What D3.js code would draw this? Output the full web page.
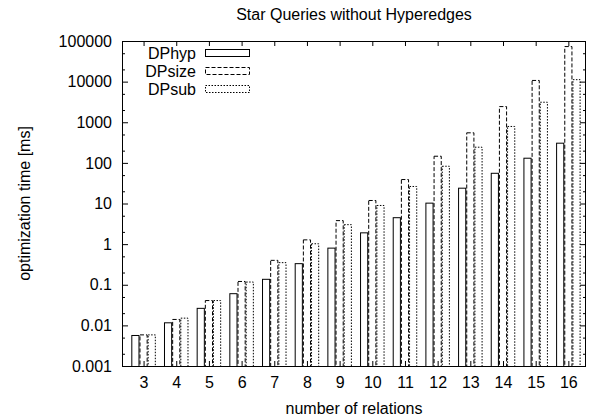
<!DOCTYPE html>
<html>
<head>
<meta charset="utf-8">
<script src="https://cdn.jsdelivr.net/npm/d3@7"></script>
<style>
  body { margin: 0; background: #fff; }
  text { font-family: "Liberation Sans", Arial, Helvetica, sans-serif; fill: #000; }
</style>
</head>
<body>
<svg id="chart" width="592" height="419"></svg>
<script>
const width = 592
const height = 419
const margin = {top: 41, right: 6, bottom: 53, left: 122}
const fontSize = 16

// data
const relations = [3, 4, 5, 6, 7, 8, 9, 10, 11, 12, 13, 14, 15, 16]
const dphyp  = [0.0058, 0.0119, 0.027, 0.062, 0.14, 0.34, 0.82, 1.95, 4.6, 10.5, 24.5, 57, 134, 314]
const dpsize = [0.0060, 0.0144, 0.042, 0.124, 0.41, 1.31, 3.9, 12.2, 40, 150, 565, 2500, 11000, 75000]
const dpsub  = [0.0060, 0.0155, 0.042, 0.120, 0.36, 1.05, 3.1, 9.2, 27, 85, 250, 810, 3200, 11500]
const yTicks = [0.001, 0.01, 0.1, 1, 10, 100, 1000, 10000, 100000]
const yTickLabels = ['0.001', '0.01', '0.1', '1', '10', '100', '1000', '10000', '100000']
const yMinor = [0.002, 0.005, 0.02, 0.05, 0.2, 0.5, 2, 5, 20, 50, 200, 500, 2000, 5000, 20000, 50000]
const seriesNames = ['DPhyp', 'DPsize', 'DPsub']

const series = [
  {name: seriesNames[0], values: dphyp, dash: null},
  {name: seriesNames[1], values: dpsize, dash: '4,2'},
  {name: seriesNames[2], values: dpsub, dash: '1.5,1.5'}
]

const svg = d3.select('#chart')
const x0 = margin.left, x1 = width - margin.right
const y0 = height - margin.bottom, y1 = margin.top

const x = d3.scaleLinear().domain([2.34, 16.54]).range([x0, x1])
const y = d3.scaleLog().domain([0.001, 100000]).range([y0, y1])
const barW = 0.25

// bars
series.forEach((s, si) => {
  svg.append('g')
    .selectAll('rect')
    .data(relations.map((r, i) => ({r: r, v: s.values[i]})))
    .enter().append('rect')
    .attr('x', d => x(d.r + (si - 1) * barW - barW / 2) + 0.5)
    .attr('y', d => y(d.v) + 0.5)
    .attr('width', d => x(barW) - x(0) - 1)
    .attr('height', d => y0 - y(d.v))
    .attr('fill', 'none')
    .attr('stroke', '#000')
    .attr('stroke-width', 1)
    .attr('stroke-dasharray', s.dash)
})

// y axis (left + mirrored right)
const yLabel = d3.scaleOrdinal().domain(yTicks).range(yTickLabels)
const gy = svg.append('g').attr('transform', `translate(${x0},0)`)
  .call(d3.axisLeft(y).tickValues(yTicks).tickFormat(d => yLabel(d)).tickSize(-6).tickPadding(10))
gy.selectAll('text').attr('font-size', fontSize)
svg.append('g').attr('transform', `translate(${x0},0)`)
  .call(d3.axisLeft(y).tickValues(yMinor).tickFormat('').tickSize(-3))
svg.append('g').attr('transform', `translate(${x1},0)`)
  .call(d3.axisRight(y).tickValues(yTicks).tickFormat('').tickSize(-6))
svg.append('g').attr('transform', `translate(${x1},0)`)
  .call(d3.axisRight(y).tickValues(yMinor).tickFormat('').tickSize(-3))

// x axis (bottom + mirrored top)
const gx = svg.append('g').attr('transform', `translate(0,${y0})`)
  .call(d3.axisBottom(x).tickValues(relations).tickFormat(d3.format('d')).tickSize(-5).tickPadding(11))
gx.selectAll('text').attr('font-size', fontSize)
svg.append('g').attr('transform', `translate(0,${y1})`)
  .call(d3.axisTop(x).tickValues(relations).tickFormat('').tickSize(-5))

svg.selectAll('.domain').remove()
svg.selectAll('.tick line').attr('stroke', '#000')

// border
svg.append('rect')
  .attr('x', x0 + 0.5).attr('y', y1 + 0.5)
  .attr('width', x1 - x0 - 1).attr('height', y0 - y1)
  .attr('fill', 'none').attr('stroke', '#000')

// titles
svg.append('text')
  .attr('x', (x0 + x1) / 2).attr('y', 20)
  .attr('text-anchor', 'middle').attr('font-size', fontSize)
  .text('Star Queries without Hyperedges')
svg.append('text')
  .attr('x', (x0 + x1) / 2).attr('y', 414)
  .attr('text-anchor', 'middle').attr('font-size', fontSize)
  .text('number of relations')
svg.append('text')
  .attr('transform', `translate(30,${(y0 + y1) / 2}) rotate(-90)`)
  .attr('text-anchor', 'middle').attr('font-size', fontSize)
  .text('optimization time [ms]')

// legend
const legend = svg.append('g')
series.forEach((s, i) => {
  const ly = 53 + i * 18
  legend.append('text')
    .attr('x', 196).attr('y', ly).attr('dy', '0.35em')
    .attr('text-anchor', 'end').attr('font-size', fontSize)
    .text(s.name)
  legend.append('rect')
    .attr('x', 205.5).attr('y', ly - 3.5)
    .attr('width', 44).attr('height', 7)
    .attr('fill', 'none').attr('stroke', '#000')
    .attr('stroke-dasharray', s.dash)
})
</script>
</body>
</html>
